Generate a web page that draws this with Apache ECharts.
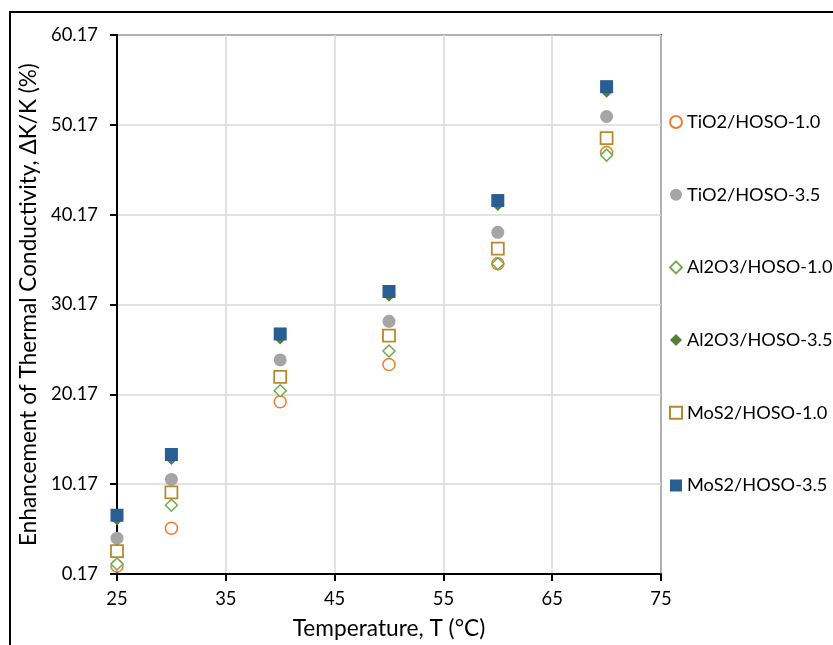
<!DOCTYPE html>
<html>
<head>
<meta charset="utf-8">
<script src="https://cdn.jsdelivr.net/npm/echarts@6/dist/echarts.min.js"></script>
<style>
  html, body { margin: 0; padding: 0; background: #fff; }
  #chart { width: 833px; height: 645px; }
</style>
</head>
<body>
<div id="chart"></div>
<script>
// temperatures (°C)
var temps = [25, 30, 40, 50, 60, 70];

// enhancement of thermal conductivity (%)
var tio2Low = [1.06, 5.27, 19.35, 23.5, 34.7, 47.1];
var tio2High = [4.16, 10.7, 24.0, 28.3, 38.2, 51.1];
var al2o3Low = [1.28, 7.82, 20.57, 25.0, 34.7, 46.8];
var al2o3High = [6.3, 13.03, 26.45, 31.2, 41.3, 53.9];
var mos2Low = [2.72, 9.26, 22.12, 26.7, 36.4, 48.7];
var mos2High = [6.71, 13.47, 26.89, 31.62, 41.74, 54.42];

var seriesNames = [
  "TiO2/HOSO-1.0", "TiO2/HOSO-3.5",
  "Al2O3/HOSO-1.0", "Al2O3/HOSO-3.5",
  "MoS2/HOSO-1.0", "MoS2/HOSO-3.5"
];

// tick labels
var xTicks = [25, 35, 45, 55, 65, 75];
var yTicks = [0.17, 10.17, 20.17, 30.17, 40.17, 50.17, 60.17];

var font = "Lato, 'Open Sans', sans-serif";

function pairs(ys) {
  return temps.map(function(t, i) { return [t, ys[i]]; });
}

function makeSeries(name, ys, symbol, size, style) {
  style.opacity = 1;
  return {
    name: name,
    type: "scatter",
    data: pairs(ys),
    symbol: symbol,
    symbolSize: size,
    itemStyle: style,
    emphasis: { disabled: true }
  };
}

var chart = echarts.init(document.getElementById("chart"));

var option = {
  animation: false,
  backgroundColor: "#fff",
  textStyle: { fontFamily: font },
  graphic: [
    {
      type: "rect",
      shape: { x: 10, y: 12, width: 900, height: 700 },
      style: { fill: "none", stroke: "#000", lineWidth: 2 },
      silent: true
    }
  ],
  grid: {
    left: 117,
    top: 35,
    right: 172,
    bottom: 69,
    show: true,
    borderColor: "#000",
    borderWidth: 1.5,
    backgroundColor: "transparent"
  },
  legend: {
    orient: "vertical",
    left: 664,
    top: 106,
    itemWidth: 12,
    itemHeight: 12,
    itemGap: 50.7,
    textStyle: { fontFamily: font, fontSize: 18.2, color: "#000", lineHeight: 22 },
    data: seriesNames
  },
  xAxis: {
    type: "value",
    min: 25,
    max: 75,
    interval: 10,
    name: "Temperature, T (°C)",
    nameLocation: "middle",
    nameGap: 43,
    nameTextStyle: { fontFamily: font, fontSize: 22.7, color: "#000" },
    axisLine: { lineStyle: { color: "#000", width: 2 } },
    axisTick: { show: true, length: 7, lineStyle: { color: "#000", width: 2 }, customValues: xTicks },
    axisLabel: { fontSize: 18.4, color: "#000", margin: 16, customValues: xTicks },
    splitLine: { show: true, lineStyle: { color: "#d9d9d9", width: 1.5 } }
  },
  yAxis: {
    type: "value",
    min: 0.17,
    max: 60.17,
    name: "Enhancement of Thermal Conductivity, ΔK/K (%)",
    nameLocation: "middle",
    nameRotate: 90,
    nameGap: 64,
    nameTextStyle: { fontFamily: font, fontSize: 22.6, color: "#000" },
    axisLine: { show: true, lineStyle: { color: "#000", width: 2 } },
    axisTick: { show: true, length: 7, lineStyle: { color: "#000", width: 2 }, customValues: yTicks },
    axisLabel: {
      fontSize: 18.4,
      color: "#000",
      margin: 19,
      customValues: yTicks,
      formatter: function(v) { return v.toFixed(2); }
    },
    splitLine: { show: true, lineStyle: { color: "#d9d9d9", width: 1.5 } }
  },
  series: [
    makeSeries(seriesNames[0], tio2Low, "circle", 12,
      { color: "#fff", borderColor: "#ED7D31", borderWidth: 1.5 }),
    makeSeries(seriesNames[1], tio2High, "circle", 13,
      { color: "#A5A5A5" }),
    makeSeries(seriesNames[2], al2o3Low, "diamond", 12,
      { color: "#fff", borderColor: "#70AD47", borderWidth: 1.5 }),
    makeSeries(seriesNames[3], al2o3High, "diamond", 13,
      { color: "#548235" }),
    makeSeries(seriesNames[4], mos2Low, "rect", 12,
      { color: "#fff", borderColor: "#B8892E", borderWidth: 1.8 }),
    makeSeries(seriesNames[5], mos2High, "rect", 13,
      { color: "#295E92" })
  ]
};

chart.setOption(option);
</script>
</body>
</html>
